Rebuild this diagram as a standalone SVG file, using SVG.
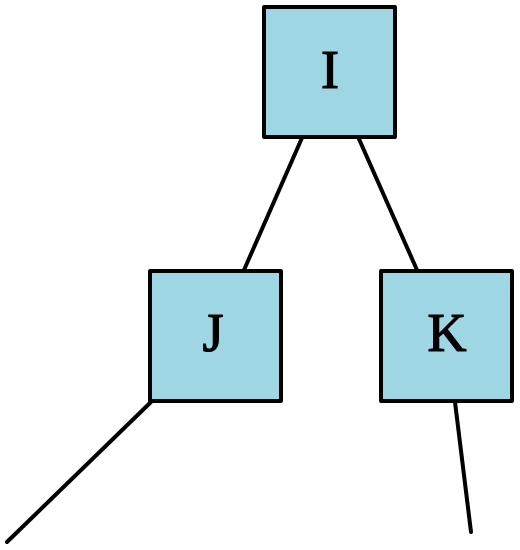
<svg xmlns="http://www.w3.org/2000/svg" width="520" height="550" viewBox="0 0 520 550">
<style>
.node rect{fill:#9fd6e4;stroke:#000;stroke-width:4;stroke-linejoin:round}
.node text{font-family:"Liberation Serif","Times New Roman",serif;font-size:54px;fill:#000;stroke:#000;stroke-width:1.2;text-anchor:middle}
.edges line{stroke:#000;stroke-width:4;stroke-linecap:round}
</style>
<rect width="520" height="550" fill="#fff"/>
<g class="edges">
<line x1="301.5" y1="139" x2="244" y2="270"/>
<line x1="359" y1="139" x2="417" y2="270"/>
<line x1="151" y1="402" x2="7" y2="542"/>
<line x1="455" y1="402" x2="471" y2="532"/>
</g>
<g id="node-I" class="node"><rect x="264" y="7" width="131" height="130"/><text x="330" y="88">I</text></g>
<g id="node-J" class="node"><rect x="150" y="271" width="131" height="130"/><text x="213" y="351">J</text></g>
<g id="node-K" class="node"><rect x="381" y="271" width="131" height="130"/><text x="447" y="351">K</text></g>
</svg>
